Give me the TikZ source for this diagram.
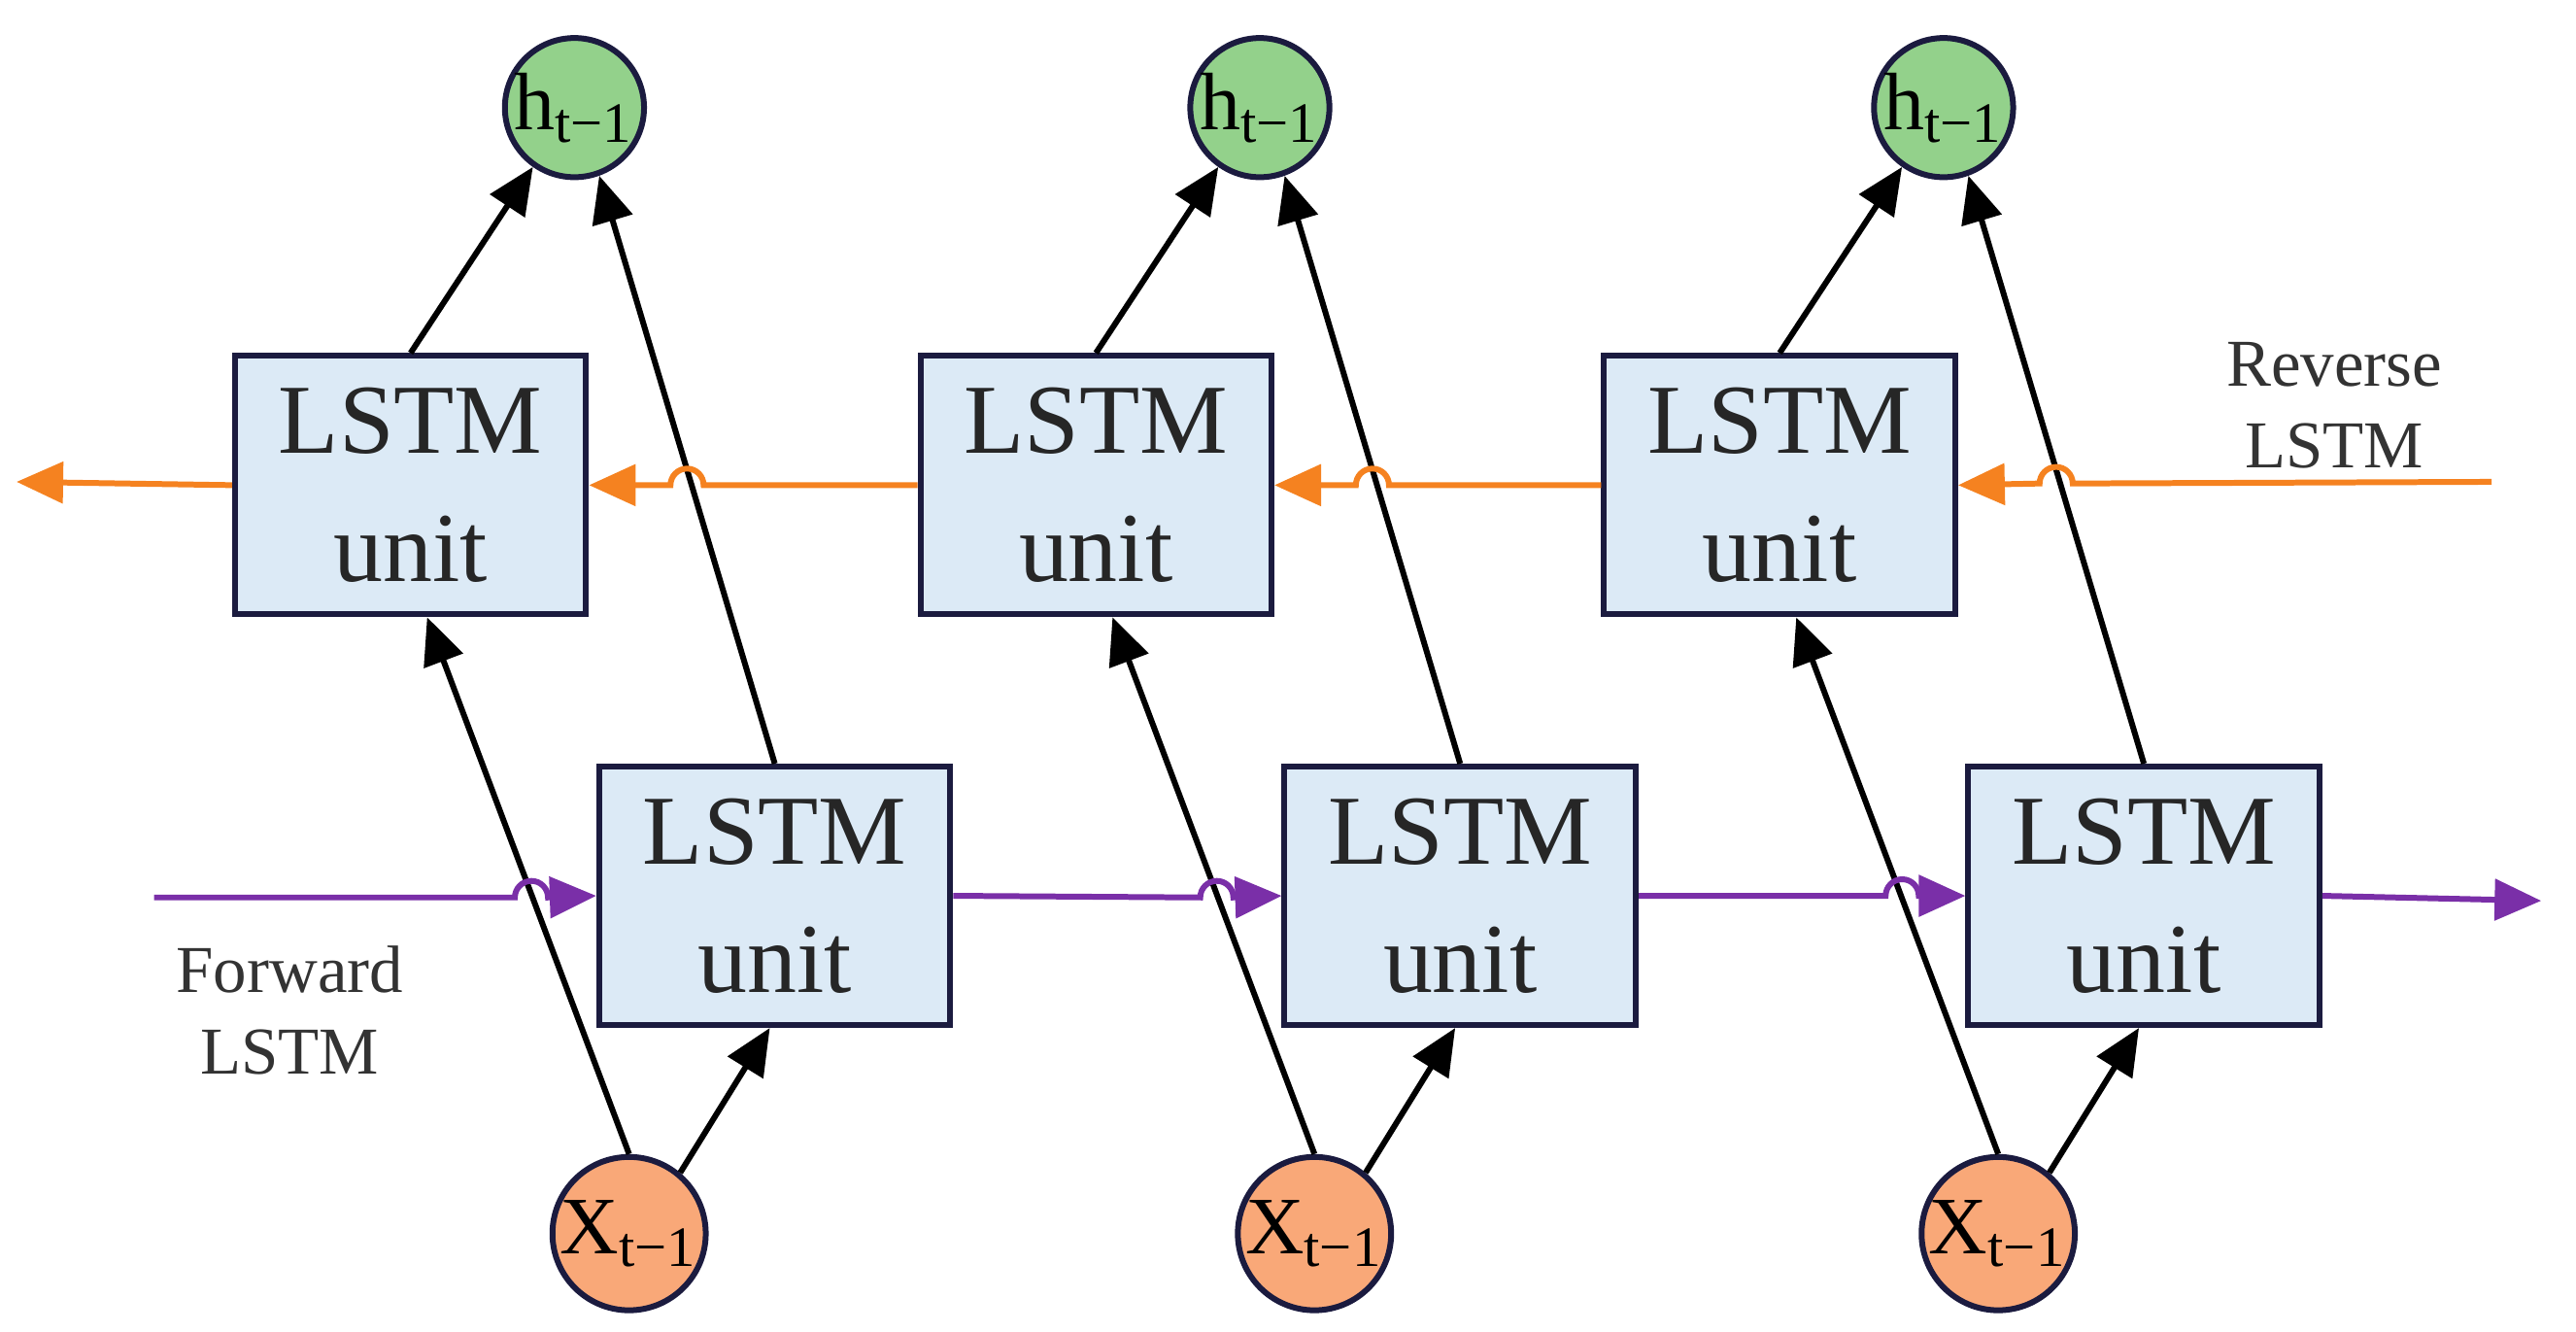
\documentclass[tikz,border=0pt]{standalone}
\usepackage{fontspec}
\setmainfont{Liberation Serif}
\usetikzlibrary{arrows.meta}
\definecolor{boxfill}{HTML}{DCEAF6}
\definecolor{navy}{HTML}{1B1B3F}
\definecolor{hgreen}{HTML}{93D18B}
\definecolor{xorange}{HTML}{F9A878}
\definecolor{revline}{HTML}{F58220}
\definecolor{fwdline}{HTML}{7A2FA8}
\begin{document}
\begin{tikzpicture}[x=0.01cm,y=-0.01cm,
    box/.style={draw=navy,line width=1pt,fill=boxfill,minimum width=2.12cm,minimum height=1.56cm,
        align=center,font=\fontsize{17}{22}\selectfont,text=black!85},
    hnode/.style={circle,draw=navy,line width=1pt,fill=hgreen,minimum size=0.84cm,inner sep=0pt,
        font=\fontsize{14}{14}\selectfont},
    xnode/.style={circle,draw=navy,line width=1pt,fill=xorange,minimum size=0.9cm,inner sep=0pt,
        font=\fontsize{14}{14}\selectfont},
    arr/.style={-{Triangle[length=8pt,width=7pt]},line width=1pt,black},
    rev/.style={-{Triangle[length=8pt,width=7pt]},line width=1pt,revline},
    fwd/.style={-{Triangle[length=8pt,width=7pt]},line width=1pt,fwdline},
    lbl/.style={align=center,font=\fontsize{11.5}{14}\selectfont,text=black!80}]
    \useasboundingbox (0,0) rectangle (1556,804);

    % one column per time step
    \foreach \i/\dx in {1/0,2/414,3/827} {
        \node[box] (u\i) at (248+\dx,293) {LSTM\\unit};
        \node[box] (l\i) at (468+\dx,541) {LSTM\\unit};
        \node[hnode] (h\i) at (347+\dx,65) {h\textsubscript{t−1}};
        \node[xnode] (x\i) at (380+\dx,745) {X\textsubscript{t−1}};

        \draw[arr] (x\i.north) -- ([xshift=0.1cm]u\i.south);
        \draw[arr] (x\i.50) -- ([xshift=-0.03cm]l\i.south);
        \draw[arr] (u\i.north) -- (h\i.-125);
        \draw[arr] (l\i.north) -- (h\i.-70);
    }

    % reverse direction
    \coordinate (revL) at (10,291);
    \coordinate (revR) at (1505,291);
    \draw[rev] (u1.west) -- (revL);
    \draw[rev] (u2.west) -- (425,293) arc (0:-180:10) -- (u1.east);
    \draw[rev] (u3.west) -- (839,293) arc (0:-180:10) -- (u2.east);
    \draw[rev] (revR) -- (1252,292) arc (0:-180:10) -- (u3.east);

    % forward direction
    \coordinate (fwdL) at (93,542);
    \coordinate (fwdR) at (1535,544);
    \draw[fwd] (fwdL) -- (311,542) arc (180:360:10) -- (l1.west);
    \draw[fwd] (l1.east) -- (725,542) arc (180:360:10) -- (l2.west);
    \draw[fwd] (l2.east) -- (1139,541) arc (180:360:10) -- (l3.west);
    \draw[fwd] (l3.east) -- (fwdR);

    \node[lbl] (fwdtxt) at (175,610) {Forward\\LSTM};
    \node[lbl] (revtxt) at (1410,245) {Reverse\\LSTM};
\end{tikzpicture}
\end{document}
